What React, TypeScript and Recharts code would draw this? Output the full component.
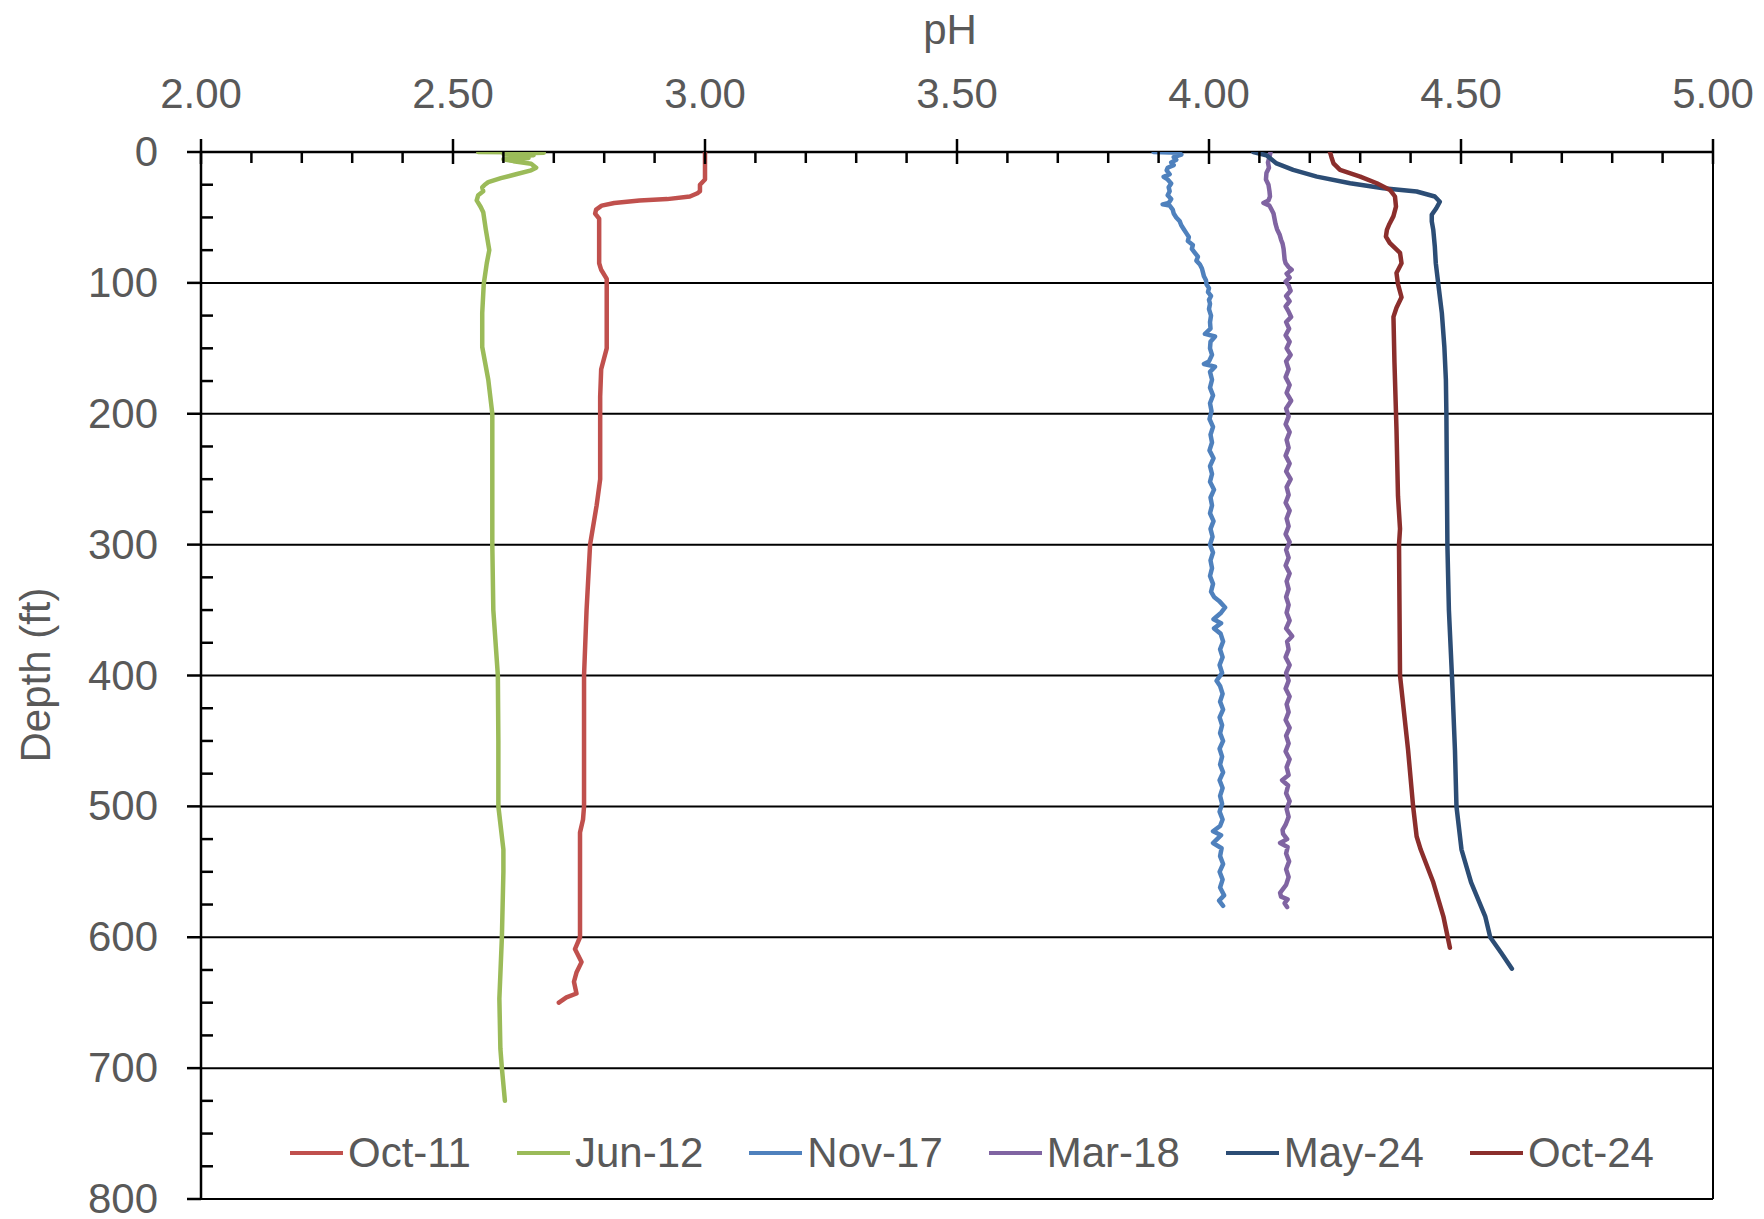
import { Legend, ReferenceLine, Scatter, ScatterChart, XAxis, YAxis } from "recharts";

const FONT = "'Liberation Sans', Arial, sans-serif";
const TEXT_COLOR = "#595959";

// pH axis ticks (every 0.1, labels on every 0.5)
const phTicks = [
  2.0, 2.1, 2.2, 2.3, 2.4, 2.5, 2.6, 2.7, 2.8, 2.9, 3.0, 3.1, 3.2, 3.3, 3.4, 3.5,
  3.6, 3.7, 3.8, 3.9, 4.0, 4.1, 4.2, 4.3, 4.4, 4.5, 4.6, 4.7, 4.8, 4.9, 5.0,
];
const phLabels = [2.0, 2.5, 3.0, 3.5, 4.0, 4.5, 5.0];

// depth axis ticks (every 25 ft, labels on every 100)
const depthTicks = [
  0, 25, 50, 75, 100, 125, 150, 175, 200, 225, 250, 275, 300, 325, 350, 375, 400,
  425, 450, 475, 500, 525, 550, 575, 600, 625, 650, 675, 700, 725, 750, 775, 800,
];
const depthLabels = [0, 100, 200, 300, 400, 500, 600, 700, 800];
const gridDepths = [100, 200, 300, 400, 500, 600, 700, 800];

const oct11Depth = [0, 21, 25, 30, 31.5, 34, 36, 37, 39, 41, 44, 47, 51, 85, 90, 97, 150, 166, 187, 250, 270, 300, 350, 400, 500, 510, 520, 595, 600, 609, 619, 627, 634, 643, 646, 650];
const oct11Ph = [3.0, 3.0, 2.99, 2.99, 2.985, 2.97, 2.925, 2.87, 2.82, 2.795, 2.784, 2.782, 2.79, 2.79, 2.794, 2.805, 2.805, 2.794, 2.792, 2.792, 2.785, 2.772, 2.765, 2.76, 2.76, 2.758, 2.752, 2.752, 2.752, 2.742, 2.755, 2.745, 2.74, 2.745, 2.725, 2.71];

const jun12Depth = [0, 0.5, 1.5, 2.5, 3.5, 4.5, 5.5, 7, 9, 12, 14, 17, 20, 23, 25, 27, 30, 33, 37, 42, 46, 59, 75, 85, 101, 123, 149, 174, 200, 250, 300, 350, 400, 450, 500, 533, 550, 600, 647, 685, 700, 725];
const jun12Ph = [2.55, 2.68, 2.6, 2.66, 2.605, 2.65, 2.6, 2.62, 2.655, 2.665, 2.655, 2.625, 2.595, 2.57, 2.563, 2.558, 2.56, 2.55, 2.547, 2.555, 2.56, 2.565, 2.572, 2.567, 2.561, 2.558, 2.558, 2.57, 2.578, 2.578, 2.578, 2.58, 2.589, 2.59, 2.59, 2.6, 2.6, 2.597, 2.592, 2.594, 2.597, 2.603];

const nov17Depth = [
  0, 0.5, 2, 4, 6, 8, 10, 12, 14, 17, 19, 21, 24, 27, 30, 33, 36, 39, 40, 41, 44, 47, 50, 53, 56, 59, 62, 65, 68, 71, 74, 77, 80, 83, 86, 89, 92, 95, 98,
  101, 104, 107, 110, 113, 116, 120, 125, 130, 135, 139, 141, 145, 150, 155, 160, 162, 164, 168, 174, 180, 186, 192, 198, 204, 210, 216, 222, 228, 234,
  240, 246, 252, 258, 264, 270, 276, 282, 288, 294, 300, 306, 312, 318, 324, 330, 336, 340, 343, 348, 352, 357, 360, 364, 368, 374, 380, 386, 392, 398,
  404, 408, 414, 420, 426, 432, 438, 444, 450, 456, 462, 468, 474, 480, 486, 492, 498, 504, 510, 515, 519, 522, 528, 532, 538, 544, 550, 556, 562, 568, 572, 576,
];
const nov17Ph = [
  3.89, 3.94, 3.945, 3.93, 3.935, 3.925, 3.93, 3.918, 3.916, 3.922, 3.91, 3.918, 3.925, 3.92, 3.922, 3.918, 3.925, 3.92, 3.908, 3.922, 3.928, 3.93, 3.935, 3.942, 3.945, 3.95, 3.955, 3.96, 3.958, 3.968, 3.966, 3.972, 3.978, 3.975, 3.982, 3.986, 3.988, 3.99, 3.994,
  3.995, 4.0, 3.998, 4.004, 4.0, 4.002, 4.0, 4.004, 4.002, 4.003, 3.992, 4.012, 4.003, 4.002, 4.006, 4.0, 3.99, 4.012, 4.002, 4.006, 4.002, 4.008, 4.002, 4.005, 4.001, 4.008, 4.003, 4.006, 4.001, 4.009,
  4.002, 4.006, 4.002, 4.01, 4.003, 4.006, 4.002, 4.009, 4.003, 4.007, 4.002, 4.008, 4.003, 4.006, 4.002, 4.008, 4.004, 4.01, 4.02, 4.032, 4.024, 4.009, 4.024, 4.01, 4.023, 4.028, 4.022, 4.027, 4.021, 4.026,
  4.015, 4.022, 4.027, 4.022, 4.028, 4.021, 4.026, 4.022, 4.028, 4.021, 4.026, 4.022, 4.028, 4.021, 4.027, 4.022, 4.026, 4.021, 4.027, 4.022, 4.008, 4.024, 4.008, 4.025, 4.022, 4.028, 4.021, 4.027, 4.022, 4.03, 4.02, 4.028,
];

const mar18Depth = [
  0, 4, 8, 12, 16, 21, 25, 30, 34, 37, 39, 41, 44, 47, 51, 55, 59, 63, 67, 70, 74, 78, 82, 85, 88, 90, 93, 96, 99, 102, 106, 110, 114, 118, 122, 126, 130,
  135, 140, 145, 150, 155, 160, 166, 172, 178, 184, 190, 196, 202, 208, 214, 220, 226, 232, 238, 244, 250, 256, 262, 268, 274, 280, 286, 292, 298, 304,
  310, 316, 322, 328, 334, 340, 346, 352, 358, 364, 370, 374, 380, 386, 392, 398, 404, 410, 416, 422, 428, 434, 440, 446, 452, 458, 464, 470, 476, 480,
  484, 490, 496, 502, 508, 514, 518, 521, 525, 528, 531, 536, 542, 548, 554, 560, 566, 569, 571, 574, 577,
];
const mar18Ph = [
  4.122, 4.12, 4.117, 4.119, 4.114, 4.113, 4.118, 4.12, 4.121, 4.118, 4.108, 4.12, 4.124, 4.128, 4.13, 4.132, 4.135, 4.14, 4.143, 4.146, 4.148, 4.149, 4.15, 4.152, 4.158, 4.164, 4.154, 4.16, 4.152, 4.158, 4.162, 4.153, 4.16, 4.152, 4.158, 4.163, 4.153,
  4.159, 4.152, 4.16, 4.154, 4.162, 4.153, 4.158, 4.152, 4.16, 4.154, 4.163, 4.153, 4.158, 4.152, 4.16, 4.154, 4.158, 4.152, 4.16, 4.153, 4.162, 4.154, 4.158, 4.152, 4.16, 4.154, 4.158, 4.152, 4.16, 4.153,
  4.158, 4.152, 4.16, 4.154, 4.158, 4.153, 4.158, 4.154, 4.16, 4.153, 4.165, 4.155, 4.158, 4.152, 4.16, 4.153, 4.158, 4.152, 4.16, 4.154, 4.158, 4.152, 4.16, 4.153, 4.158, 4.152, 4.16, 4.154, 4.158, 4.145,
  4.157, 4.153, 4.16, 4.154, 4.158, 4.152, 4.146, 4.147, 4.155, 4.141, 4.156, 4.153, 4.159, 4.153, 4.158, 4.153, 4.141, 4.143, 4.156, 4.15, 4.155,
];

const may24Depth = [0, 2.5, 8.7, 13.7, 18.8, 23.9, 27.7, 30.2, 34, 38, 43, 48, 53, 59.5, 72, 85, 101, 123, 149, 174, 200, 250, 300, 350, 400, 457, 500, 533, 558, 584, 600, 612, 624];
const may24Ph = [4.088, 4.114, 4.134, 4.167, 4.214, 4.28, 4.346, 4.412, 4.448, 4.458, 4.451, 4.442, 4.442, 4.445, 4.448, 4.45, 4.455, 4.462, 4.467, 4.47, 4.471, 4.472, 4.473, 4.476, 4.482, 4.488, 4.491, 4.501, 4.52, 4.548, 4.558, 4.58, 4.601];

const oct24Depth = [0, 4, 8.7, 13.7, 18.8, 23.9, 29, 34, 41.7, 49, 55, 59.5, 64.6, 69.7, 77, 85, 92.5, 101, 111, 119, 126, 161, 212, 263, 288, 300, 400, 457, 500, 523, 533, 558, 584, 608];
const oct24Ph = [4.24, 4.243, 4.247, 4.26, 4.3, 4.333, 4.359, 4.369, 4.371, 4.366, 4.358, 4.353, 4.351, 4.359, 4.379, 4.382, 4.372, 4.375, 4.382, 4.372, 4.366, 4.368, 4.372, 4.375, 4.379, 4.377, 4.379, 4.395, 4.405, 4.412, 4.42, 4.445, 4.465, 4.478];

const toPoints = (depths: number[], phs: number[]) =>
  depths.map((depth, i) => ({ depth, ph: phs[i] }));

const series = [
  { name: "Oct-11", color: "#C0504D", data: toPoints(oct11Depth, oct11Ph) },
  { name: "Jun-12", color: "#9BBB59", data: toPoints(jun12Depth, jun12Ph) },
  { name: "Nov-17", color: "#4F81BD", data: toPoints(nov17Depth, nov17Ph) },
  { name: "Mar-18", color: "#8064A2", data: toPoints(mar18Depth, mar18Ph) },
  { name: "May-24", color: "#2C4D75", data: toPoints(may24Depth, may24Ph) },
  { name: "Oct-24", color: "#8B2E2C", data: toPoints(oct24Depth, oct24Ph) },
];

const isPhLabel = (v: number) => phLabels.some((l) => Math.abs(l - v) < 1e-6);

const PhTick = (props: any) => {
  const { x, y, payload } = props;
  const major = isPhLabel(payload.value);
  return (
    <g>
      {major ? (
        <line x1={x} x2={x} y1={y - 13} y2={y + 12} stroke="#000" strokeWidth={2.5} />
      ) : (
        <line x1={x} x2={x} y1={y} y2={y + 11} stroke="#000" strokeWidth={2.5} />
      )}
      {major && (
        <text x={x} y={y - 44} textAnchor="middle" fill={TEXT_COLOR} fontSize={42} fontFamily={FONT}>
          {payload.value.toFixed(2)}
        </text>
      )}
    </g>
  );
};

const DepthTick = (props: any) => {
  const { x, y, payload } = props;
  const major = depthLabels.includes(payload.value);
  return (
    <g>
      {major ? (
        <line x1={x - 14} x2={x} y1={y} y2={y} stroke="#000" strokeWidth={2.5} />
      ) : (
        <line x1={x} x2={x + 12} y1={y} y2={y} stroke="#000" strokeWidth={2.5} />
      )}
      {major && (
        <text x={x - 43} y={y + 14} textAnchor="end" fill={TEXT_COLOR} fontSize={42} fontFamily={FONT}>
          {payload.value}
        </text>
      )}
    </g>
  );
};

const noDot = () => <g />;

// legend follows the series order (not alphabetical)
const renderLegend = () => (
  <div style={{ display: "flex", alignItems: "center", paddingLeft: 290, height: 56 }}>
    {series.map((s) => (
      <div key={s.name} style={{ display: "flex", alignItems: "center", marginRight: 46 }}>
        <div style={{ width: 53, height: 4, background: s.color, marginRight: 5 }} />
        <span style={{ fontFamily: FONT, fontSize: 42, color: TEXT_COLOR, lineHeight: "56px" }}>
          {s.name}
        </span>
      </div>
    ))}
  </div>
);

export default function App() {
  return (
    <div style={{ position: "relative", width: 1764, height: 1219, background: "#fff" }}>
      <style>{"body{margin:0} svg.recharts-surface{overflow:visible}"}</style>
      <ScatterChart width={1764} height={1219} margin={{ top: 151, right: 51, bottom: 20, left: 200 }}>
        <XAxis
          type="number"
          dataKey="ph"
          orientation="top"
          domain={[2, 5]}
          ticks={phTicks}
          interval={0}
          height={1}
          tickSize={0}
          tickMargin={0}
          tick={<PhTick />}
          axisLine={{ stroke: "#000", strokeWidth: 2.5 }}
          allowDataOverflow
        />
        <YAxis
          type="number"
          dataKey="depth"
          domain={[0, 800]}
          reversed
          ticks={depthTicks}
          interval={0}
          width={1}
          tickSize={0}
          tickMargin={0}
          tick={<DepthTick />}
          axisLine={{ stroke: "#000", strokeWidth: 2.5 }}
          allowDataOverflow
        />
        {gridDepths.map((d) => (
          <ReferenceLine key={d} y={d} stroke="#000" strokeWidth={2} />
        ))}
        <ReferenceLine x={5} stroke="#000" strokeWidth={2} />
        {series.map((s) => (
          <Scatter
            key={s.name}
            name={s.name}
            data={s.data}
            fill={s.color}
            shape={noDot}
            line={{ stroke: s.color, strokeWidth: 4.5, strokeLinejoin: "round", strokeLinecap: "round" }}
            lineType="joint"
            legendType="line"
            isAnimationActive={false}
          />
        ))}
        <Legend
          verticalAlign="middle"
          layout="horizontal"
          wrapperStyle={{ left: 0, top: 1125, width: 1764 }}
          content={renderLegend}
        />
      </ScatterChart>
      <div
        style={{
          position: "absolute",
          left: 0,
          width: 1900,
          top: 0,
          textAlign: "center",
          fontFamily: FONT,
          fontSize: 42,
          color: TEXT_COLOR,
          lineHeight: "60px",
          pointerEvents: "none",
        }}
      >
        pH
      </div>
      <div
        style={{
          position: "absolute",
          left: 36,
          top: 675,
          transform: "translate(-50%, -50%) rotate(-90deg)",
          fontFamily: FONT,
          fontSize: 42,
          color: TEXT_COLOR,
          whiteSpace: "nowrap",
          pointerEvents: "none",
        }}
      >
        Depth (ft)
      </div>
    </div>
  );
}
